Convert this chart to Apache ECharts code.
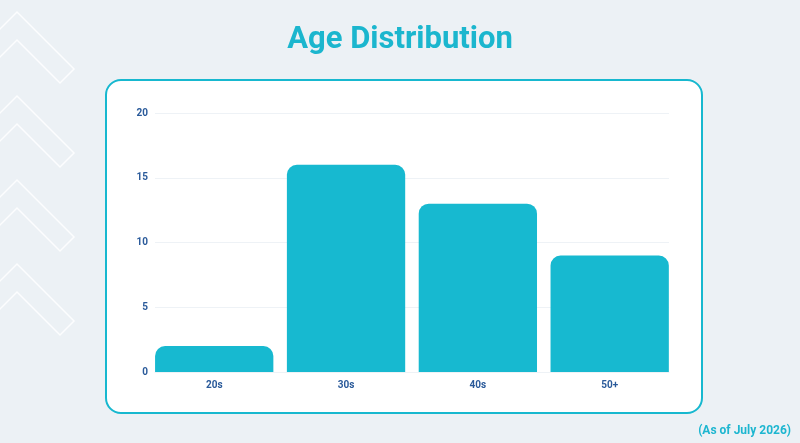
<!DOCTYPE html>
<html><head><meta charset="utf-8">
<script src="https://cdn.jsdelivr.net/npm/echarts@6/dist/echarts.min.js"></script>
<style>html,body{margin:0;padding:0;background:#ECF1F5;}#c{width:800px;height:443px;}</style>
</head><body><div id="c"></div>
<script>
const categories = ['20s', '30s', '40s', '50+'];
const counts = [2, 16, 13, 9];
const yTicks = [0, 5, 10, 15, 20];

const chart = echarts.init(document.getElementById('c'), null, {renderer: 'canvas'});
const chevrons = [];
[12, 96, 180, 264].forEach(function (y0) {
  chevrons.push({
    type: 'polyline', silent: true,
    shape: {points: [[-2, y0 + 19], [17, y0], [74, y0 + 57], [60, y0 + 71], [17, y0 + 28], [-2, y0 + 47]]},
    style: {stroke: '#ffffff', lineWidth: 1.5, fill: null, opacity: 0.85}
  });
});
const labelStyle = {color: '#2A5A9A', fontWeight: 'bold', fontSize: 10, fontFamily: 'Roboto'};
const option = {
  backgroundColor: '#ECF1F5',
  animation: false,
  title: {
    text: 'Age Distribution', left: 'center', top: 20,
    textStyle: {color: '#1BB6CE', fontSize: 31, fontWeight: 'bold', fontFamily: 'Roboto'}
  },
  graphic: chevrons.concat([
    {type: 'rect', silent: true, z: -1, shape: {x: 106, y: 80, width: 596, height: 333, r: 15},
     style: {fill: '#ffffff', stroke: '#17B8CF', lineWidth: 2}},
    {type: 'text', silent: true, right: 9, top: 425,
     style: {text: '(As of July 2026)', fill: '#1DB6D0', font: 'bold 12px Roboto'}}
  ]),
  grid: [
    {left: 148.3, right: 124.4, top: 113, bottom: 71},
    {left: 155, right: 131, top: 113, bottom: 71}
  ],
  xAxis: [
    {
      type: 'category', data: categories, gridIndex: 0,
      axisLine: {show: false}, axisTick: {show: false},
      axisLabel: Object.assign({margin: 8}, labelStyle)
    },
    {
      type: 'value', gridIndex: 1, min: 0, max: 1,
      axisLine: {show: true, onZero: false, lineStyle: {color: '#EEF2F6'}},
      axisTick: {show: false}, axisLabel: {show: false}, splitLine: {show: false}
    }
  ],
  yAxis: [
    {
      type: 'value', gridIndex: 0, min: 0, max: 20, interval: 5,
      axisLine: {show: false}, axisTick: {show: false},
      axisLabel: {show: false}, splitLine: {show: false}
    },
    {
      type: 'value', gridIndex: 1, min: 0, max: 20, interval: 5,
      axisLine: {show: false}, axisTick: {show: false},
      splitLine: {lineStyle: {color: '#EEF2F6'}},
      axisLabel: Object.assign({margin: 7,
        formatter: function (v) { return yTicks.indexOf(v) >= 0 ? String(v) : ''; }}, labelStyle)
    }
  ],
  series: [{
    type: 'bar', data: counts, xAxisIndex: 0, yAxisIndex: 0, barWidth: 118.3, z: 3,
    itemStyle: {color: '#17B9D0', borderRadius: [10, 10, 0, 0]}
  }]
};
chart.setOption(option);
</script></body></html>
